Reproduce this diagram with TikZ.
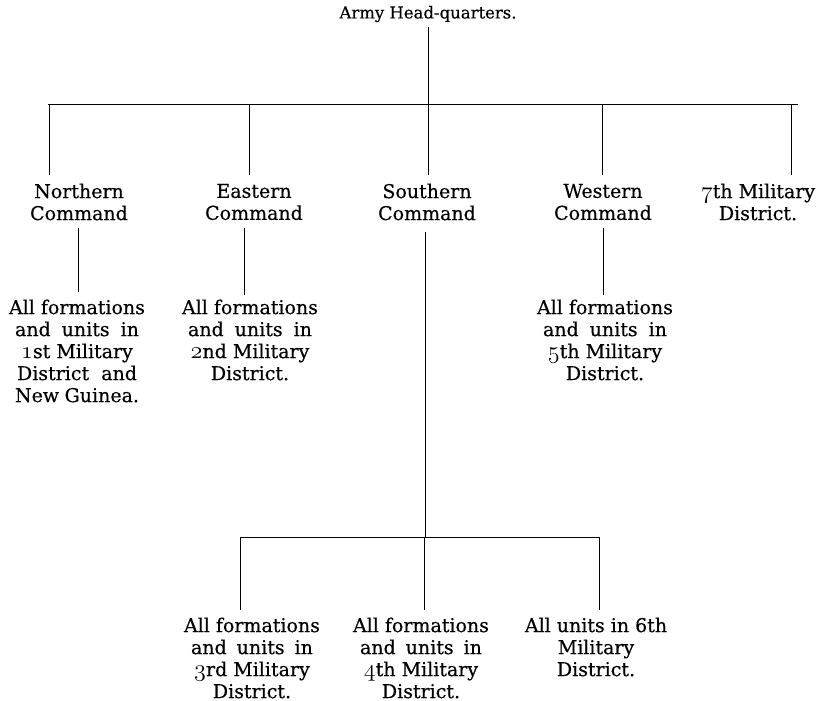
\documentclass[tikz,border=0pt]{standalone}
\usepackage{fontspec}
\setmainfont{DejaVu Serif}[FakeBold=0.4]
\newcommand{\osn}[1]{\raisebox{0pt}{\scalebox{1.4}{$\mathnormal{#1}$}}}
\newcommand{\jl}[2]{\makebox[#1pt][s]{#2}}
\begin{document}
\begin{tikzpicture}[x=1pt,y=-1pt,
  lbl/.style={align=center,inner sep=0pt,font=\fontsize{19}{22}\selectfont},
  conn/.style={line width=0.7pt}]
\useasboundingbox (0,0) rectangle (817,701);
\node[lbl,font=\fontsize{16.5}{20}\selectfont] (hq) at (428,14) {Army Head-quarters.};
\node[lbl] (nc) at (79,202) {Northern\\Command};
\node[lbl] (ec) at (254,202) {Eastern\\Command};
\node[lbl] (sc) at (427,202) {Southern\\Command};
\node[lbl] (wc) at (603,202) {Western\\Command};
\node[lbl] (md7) at (758,202) {\osn{7}th Military\\District.};
\node[lbl] (n1) at (77,351) {All formations\\\jl{124}{and units in}\\\osn{1}st Military\\\jl{120}{District and}\\\jl{124}{New Guinea.}};
\node[lbl] (e2) at (250,340) {All formations\\\jl{124}{and units in}\\\osn{2}nd Military\\District.};
\node[lbl] (w5) at (605,340) {All formations\\\jl{124}{and units in}\\\osn{5}th Military\\District.};
\node[lbl] (s3) at (252,658) {All formations\\\jl{122}{and units in}\\\osn{3}rd Military\\District.};
\node[lbl] (s4) at (421,658) {All formations\\\jl{122}{and units in}\\\osn{4}th Military\\District.};
\node[lbl] (s6) at (596,647) {All units in 6th\\Military\\District.};
% top bus
\coordinate (busL) at (48,104);
\coordinate (busR) at (798,104);
\coordinate (hqb) at (428,104);
\draw[conn] ([yshift=-5pt]hq.south -| hqb) -- (hqb);
\draw[conn] (busL) -- (busR);
\draw[conn] (49,104) -- (49,175);
\draw[conn] (249,104) -- (249,175);
\draw[conn] (428,104) -- (428,175);
\draw[conn] (602,104) -- (602,175);
\draw[conn] (791,104) -- (791,175);
% second level
\draw[conn] (78,228) -- (78,292);
\draw[conn] (244,228) -- (244,295);
\draw[conn] (603,228) -- (603,295);
\coordinate (sbus) at (425,537);
\draw[conn] (425,232) -- (sbus);
\draw[conn] (240,537) -- (600,537);
\draw[conn] (240,537) -- (240,610);
\draw[conn] (424,537) -- (424,610);
\draw[conn] (599,537) -- (599,610);
\end{tikzpicture}
\end{document}
